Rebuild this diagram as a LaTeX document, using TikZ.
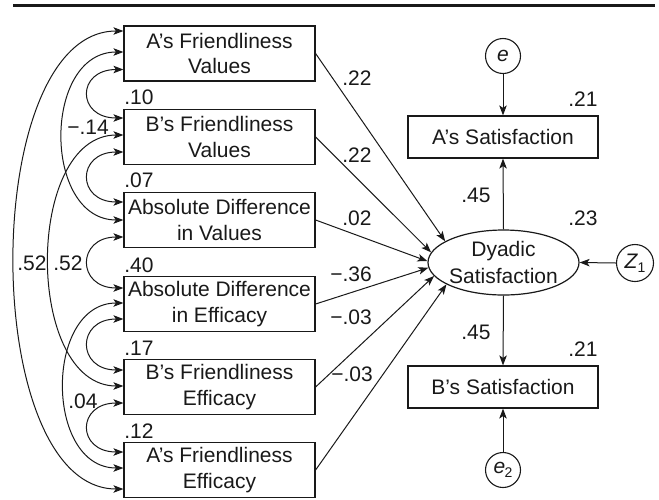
\documentclass[tikz,border=0pt]{standalone}
\usepackage{fontspec}
\setmainfont{Liberation Sans}
\usetikzlibrary{arrows.meta,shapes.geometric}

\tikzset{
  ink/.style={color=black!90},
  tip/.tip={Stealth[length=10pt,width=7.5pt,inset=2.5pt]},
  varbox/.style={draw, ink, line width=1.2pt, minimum width=191pt, minimum height=55pt,
    inner sep=0pt, align=center, font=\fontsize{21}{25.5}\selectfont},
  satbox/.style={draw, ink, line width=1.2pt, minimum width=190pt, minimum height=42pt,
    inner sep=0pt, align=center, font=\fontsize{21}{25.5}\selectfont},
  latent/.style={draw, ink, ellipse, line width=1.2pt, minimum width=151pt, minimum height=65pt,
    inner xsep=-12pt, inner ysep=0pt, align=center, font=\fontsize{21}{27}\selectfont},
  errc/.style={draw, ink, circle, line width=1.1pt, minimum size=35pt, inner sep=0pt,
    font=\fontsize{21}{25}\selectfont},
  coef/.style={ink, inner sep=0pt, font=\fontsize{21}{25}\selectfont},
  path/.style={ink, line width=1pt, -tip},
  cov/.style={ink, line width=1pt, tip-tip},
}

\begin{document}
\begin{tikzpicture}[x=1pt, y=-1pt]
\useasboundingbox (0,0) rectangle (659,499);

% heading rule
\draw[ink, line width=3pt] (13,5.5) -- (655,5.5);

% exogenous variables
\node[varbox] (a1) at (219.5,53.5) {A’s Friendliness\\Values};
\node[varbox] (a2) at (219.5,137)  {B’s Friendliness\\Values};
\node[varbox] (a3) at (219.5,220)  {Absolute Difference\\in Values};
\node[varbox] (a4) at (219.5,304)  {Absolute Difference\\in Efficacy};
\node[varbox] (a5) at (219.5,387)  {B’s Friendliness\\Efficacy};
\node[varbox] (a6) at (219.5,470)  {A’s Friendliness\\Efficacy};

% outcome side
\node[latent] (dy) at (503.5,262.5) {Dyadic\\Satisfaction};
\node[satbox] (sa) at (503,137) {A’s Satisfaction};
\node[satbox] (sb) at (503,387) {B’s Satisfaction};
\node[errc] (e1) at (503,56) {\textit{e}};
\node[errc] (e2) at (503,470) {\textit{e}\kern-0.5pt\raisebox{-4pt}{\fontsize{14}{14}\selectfont 2}};
\node[errc, minimum size=37pt] (z1) at (635,263) {\textit{Z}\kern-0.5pt\raisebox{-4pt}{\fontsize{14}{14}\selectfont 1}};

% structural paths
\draw[path] (a1.east) -- (dy.160);
\draw[path] (a2.east) -- (dy.172);
\draw[path] (a3.east) -- (dy.179);
\draw[path] (a4.east) -- (dy.184);
\draw[path] (a5.east) -- (dy.191);
\draw[path] (a6.east) -- (dy.201);
\draw[path] (dy.north) -- (sa.south);
\draw[path] (dy.south) -- (sb.north);
\draw[path] (e1.south) -- (sa.north);
\draw[path] (e2.north) -- (sb.south);
\draw[path] (z1.west) -- (dy.east);

% covariances between neighbouring variables
\draw[cov] ([yshift=-16pt]a1.west) .. controls +(-47,0) and +(-47,0) .. ([yshift=19pt]a2.west);
\draw[cov] ([yshift=-15pt]a2.west) .. controls +(-47,0) and +(-47,0) .. ([yshift=18pt]a3.west);
\draw[cov] ([yshift=-17pt]a3.west) .. controls +(-47,0) and +(-47,0) .. ([yshift=16pt]a4.west);
\draw[cov] ([yshift=-15pt]a4.west) .. controls +(-47,0) and +(-47,0) .. ([yshift=17pt]a5.west);
\draw[cov] ([yshift=-16pt]a5.west) .. controls +(-47,0) and +(-47,0) .. ([yshift=18pt]a6.west);

% longer covariances
\draw[cov] ([yshift=1.5pt]a1.west) .. controls +(-81,0) and +(-81,0) .. (a3.west);
\draw[cov] ([yshift=2pt]a2.west) .. controls +(-99,0) and +(-99,0) .. ([yshift=1pt]a5.west);
\draw[cov] ([yshift=1pt]a4.west) .. controls +(-79,0) and +(-79,0) .. ([yshift=2pt]a6.west);
\draw[cov] ([yshift=22.5pt]a1.west) .. controls +(-145,0) and +(-145,0) .. ([yshift=-19pt]a6.west);

% covariance coefficients
\node[coef] (c10) at (139,97) {.10};
\node[coef] (c14) at (88,127) {−.14};
\node[coef] (c07) at (139,180) {.07};
\node[coef] (c52o) at (32,263) {.52};
\node[coef] (c52i) at (68,263) {.52};
\node[coef] (c40) at (139,265) {.40};
\node[coef] (c17) at (139,348) {.17};
\node[coef] (c04) at (83,401) {.04};
\node[coef] (c12) at (139,431) {.12};

% path coefficients
\node[coef] (p1) at (357,78) {.22};
\node[coef] (p2) at (357,155) {.22};
\node[coef] (p3) at (357,218) {.02};
\node[coef] (p4) at (351,274) {−.36};
\node[coef] (p5) at (351,317) {−.03};
\node[coef] (p6) at (352,374) {−.03};
\node[coef] (pa) at (476,195) {.45};
\node[coef] (pb) at (476,332) {.45};
\node[coef] (ra) at (583,99) {.21};
\node[coef] (rd) at (583,218) {.23};
\node[coef] (rb) at (583,349) {.21};
\end{tikzpicture}
\end{document}
